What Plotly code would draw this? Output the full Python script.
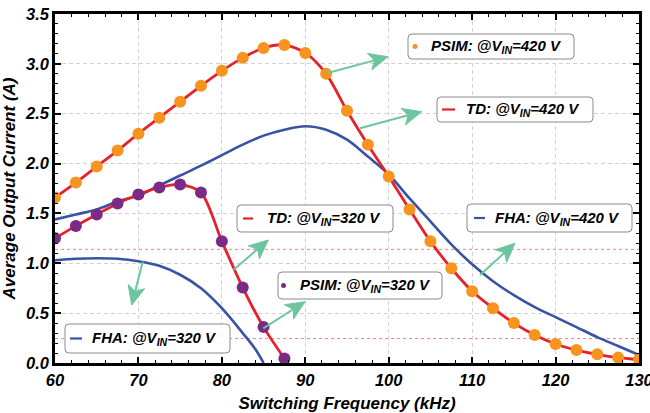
import math
import plotly.graph_objects as go

# ---------------- data ----------------
freq_420 = [60, 62.5, 65, 67.5, 70, 72.5, 75, 77.5, 80, 82.5, 85, 87.5, 90, 92.5, 95,
            97.5, 100, 102.5, 105, 107.5, 110, 112.5, 115, 117.5, 120, 122.5, 125, 127.5, 130]
psim_420 = [1.66, 1.81, 1.97, 2.13, 2.30, 2.46, 2.62, 2.78, 2.93, 3.06, 3.16, 3.19, 3.11, 2.90, 2.53,
            2.19, 1.87, 1.54, 1.22, 0.95, 0.72, 0.55, 0.40, 0.28, 0.19, 0.13, 0.087, 0.054, 0.034]
fha_420 = [1.44, 1.49, 1.54, 1.62, 1.68, 1.78, 1.88, 1.98, 2.085, 2.19, 2.28, 2.34, 2.375, 2.34, 2.24,
           2.07, 1.89, 1.65, 1.42, 1.19, 0.99, 0.82, 0.68, 0.56, 0.46, 0.36, 0.26, 0.17, 0.08]

freq_320 = [60, 62.5, 65, 67.5, 70, 72.5, 75, 77.5, 80, 82.5, 85, 87.5]
psim_320 = [1.25, 1.375, 1.49, 1.60, 1.69, 1.76, 1.79, 1.71, 1.22, 0.757, 0.36, 0.044]

freq_fha320 = [60, 62.5, 65, 67.5, 70, 72.5, 75, 77.5, 80, 82.5, 84, 85]
fha_320 = [1.03, 1.045, 1.05, 1.045, 1.02, 0.975, 0.885, 0.75, 0.55, 0.30, 0.14, 0.0]

ref_levels = [1.14, 0.245]

x_ticks = [60, 70, 80, 90, 100, 110, 120, 130]
y_ticks = [0.0, 0.5, 1.0, 1.5, 2.0, 2.5, 3.0, 3.5]

# ---------------- style ----------------
ORANGE = "#F7931E"
PURPLE = "#7B2A86"
RED = "#E8202A"
BLUE = "#3A52A3"
TEAL = "#6CC5A0"
FONT = "Liberation Sans"

W, H = 650, 413
ML, MR, MT, MB = 55, 11, 14, 50
XMIN, XMAX, YMIN, YMAX = 60, 130, 0, 3.5
PW, PH = W - ML - MR, H - MT - MB


def px2x(px):
    return XMIN + (px - ML) * (XMAX - XMIN) / PW


def py2y(py):
    return YMIN + (H - MB - py) * (YMAX - YMIN) / PH


def P(px, py):
    return f"{px2x(px)},{py2y(py)}"


fig = go.Figure()

fig.add_trace(go.Scatter(x=freq_420, y=fha_420, mode="lines", line=dict(color=BLUE, width=2.6, shape="spline"),
                         name="FHA 420", showlegend=False))
fig.add_trace(go.Scatter(x=freq_fha320, y=fha_320, mode="lines", line=dict(color=BLUE, width=2.6, shape="spline"),
                         name="FHA 320", showlegend=False))
fig.add_trace(go.Scatter(x=freq_420, y=psim_420, mode="lines",
                         line=dict(color=RED, width=2.8, shape="spline", smoothing=0.8),
                         name="TD 420", showlegend=False))
fig.add_trace(go.Scatter(x=freq_320, y=psim_320, mode="lines",
                         line=dict(color=RED, width=2.8, shape="spline", smoothing=0.8),
                         name="TD 320", showlegend=False))
fig.add_trace(go.Scatter(x=freq_420, y=psim_420, mode="markers",
                         marker=dict(color=ORANGE, size=12, line=dict(width=0)),
                         name="PSIM 420", showlegend=False))
fig.add_trace(go.Scatter(x=freq_320, y=psim_320, mode="markers",
                         marker=dict(color=PURPLE, size=12, line=dict(width=0)),
                         name="PSIM 320", showlegend=False))

shapes = []
for lv in ref_levels:
    shapes.append(dict(type="line", xref="x", yref="y", x0=XMIN, x1=XMAX, y0=lv, y1=lv,
                       line=dict(color="#F08080", width=1, dash="dot"), layer="below"))


def rounded_box(x0p, y0p, x1p, y1p, r=4):
    path = (f"M {P(x0p + r, y0p)} L {P(x1p - r, y0p)} Q {P(x1p, y0p)} {P(x1p, y0p + r)} "
            f"L {P(x1p, y1p - r)} Q {P(x1p, y1p)} {P(x1p - r, y1p)} "
            f"L {P(x0p + r, y1p)} Q {P(x0p, y1p)} {P(x0p, y1p - r)} "
            f"L {P(x0p, y0p + r)} Q {P(x0p, y0p)} {P(x0p + r, y0p)} Z")
    return dict(type="path", xref="x", yref="y", path=path, fillcolor="white",
                line=dict(color="#8a8a8a", width=1), layer="above")


# legend entries: (box pixels, sample type, sample color, sample pixels, text start px, label)
legend_items = [
    ((408, 34, 574, 59), "dot", ORANGE, (415, 46.5), 429, "PSIM: @V<sub>IN</sub>=420 V"),
    ((437, 97, 593, 122), "line", RED, (442, 455, 109.5), 464, "TD: @V<sub>IN</sub>=420 V"),
    ((237, 205, 393, 232), "line", RED, (243, 253, 218.5), 265, "TD: @V<sub>IN</sub>=320 V"),
    ((467, 204, 632, 232), "line", BLUE, (474, 485, 218), 493, "FHA: @V<sub>IN</sub>=420 V"),
    ((278, 272, 442, 299), "dot", PURPLE, (283.5, 285.5), 298, "PSIM: @V<sub>IN</sub>=320 V"),
    ((65, 324, 230, 353), "line", BLUE, (70, 82, 338.5), 90, "FHA: @V<sub>IN</sub>=320 V"),
]

annotations = []
for box, kind, col, smp, tx, label in legend_items:
    shapes.append(rounded_box(*box))
    cy = (box[1] + box[3]) / 2
    if kind == "dot":
        cx, cyy = smp
        rr = 2.5
        shapes.append(dict(type="circle", xref="x", yref="y",
                           x0=px2x(cx - rr), x1=px2x(cx + rr), y0=py2y(cyy + rr), y1=py2y(cyy - rr),
                           fillcolor=col, line=dict(width=0), layer="above"))
    else:
        a, b, yy = smp
        shapes.append(dict(type="line", xref="x", yref="y", x0=px2x(a), x1=px2x(b), y0=py2y(yy), y1=py2y(yy),
                           line=dict(color=col, width=2.2), layer="above"))
    annotations.append(dict(x=px2x(tx), y=py2y(cy), xref="x", yref="y", xanchor="left", yanchor="middle",
                            text=f"<b><i>{label}</i></b>", showarrow=False,
                            font=dict(family=FONT, size=15, color="black")))

# arrows (tail px, head px) drawn as shaft + barbed head shapes
arrows = [
    ((326.7, 73.3), (388, 56.7)),
    ((360, 128.3), (421.7, 111.7)),
    ((480, 275), (515, 243.3)),
    ((233.3, 270), (268.3, 240)),
    ((263.3, 328.3), (305, 301.7)),
    ((142.7, 261.7), (131.7, 305)),
]
HL, HW, NOTCH = 19.0, 8.5, 14.0
for (tx_, ty_), (hx, hy) in arrows:
    dx, dy = hx - tx_, hy - ty_
    L = math.hypot(dx, dy)
    ux, uy = dx / L, dy / L
    nx, ny = -uy, ux
    bx, by = hx - HL * ux, hy - HL * uy
    kx, ky = hx - NOTCH * ux, hy - NOTCH * uy
    shapes.append(dict(type="line", xref="x", yref="y", x0=px2x(tx_), y0=py2y(ty_),
                       x1=px2x(kx), y1=py2y(ky), line=dict(color=TEAL, width=2), layer="above"))
    head = (f"M {P(hx, hy)} L {P(bx + HW * nx, by + HW * ny)} L {P(kx, ky)} "
            f"L {P(bx - HW * nx, by - HW * ny)} Z")
    shapes.append(dict(type="path", xref="x", yref="y", path=head, fillcolor=TEAL,
                       line=dict(color=TEAL, width=1), layer="above"))

tickfont = dict(family=FONT, size=16.5, color="black", weight="bold", style="italic")
titlefont = dict(family=FONT, size=17, color="black", weight="bold", style="italic")

fig.update_layout(
    width=W, height=H,
    margin=dict(l=ML, r=MR, t=MT, b=MB, autoexpand=False),
    paper_bgcolor="white", plot_bgcolor="white",
    shapes=shapes, annotations=annotations,
    showlegend=False,
    xaxis=dict(range=[XMIN, XMAX], tickvals=x_ticks, ticktext=[str(v) for v in x_ticks],
               automargin=False, ticklabeloverflow="allow",
               showline=True, linecolor="black", linewidth=2.5, mirror="allticks",
               ticks="inside", ticklen=6, tickwidth=1.5, tickcolor="black",
               minor=dict(dtick=2, ticks="inside", ticklen=3, tickwidth=1, tickcolor="black", showgrid=False),
               showgrid=True, gridcolor="#d2d2d2", griddash="4px,3px", gridwidth=1, zeroline=False,
               tickfont=tickfont,
               title=dict(text="Switching Frequency (kHz)", font=titlefont)),
    yaxis=dict(range=[YMIN, YMAX], tickvals=y_ticks, ticktext=[f"{v:.1f}" for v in y_ticks],
               automargin=False, ticklabeloverflow="allow",
               showline=True, linecolor="black", linewidth=2.5, mirror="allticks",
               ticks="inside", ticklen=6, tickwidth=1.5, tickcolor="black",
               minor=dict(dtick=0.1, ticks="inside", ticklen=3, tickwidth=1, tickcolor="black", showgrid=False),
               showgrid=True, gridcolor="#d2d2d2", griddash="4px,3px", gridwidth=1, zeroline=False,
               tickfont=tickfont,
               title=dict(text="Average Output Current (A)", font=titlefont)),
)

fig.write_html("out.html")
